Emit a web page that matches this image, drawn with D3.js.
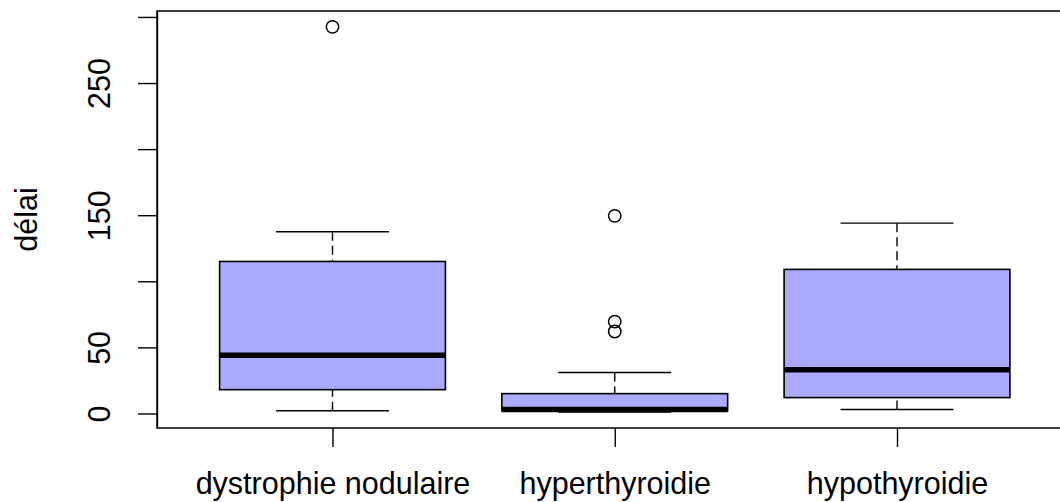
<!DOCTYPE html>
<html>
<head>
<meta charset="utf-8">
<script src="https://cdn.jsdelivr.net/npm/d3@7/dist/d3.min.js"></script>
<style>
  html, body { margin: 0; padding: 0; background: #fff; }
  svg { display: block; }
  text { font-family: "Liberation Sans", Arial, sans-serif; fill: #000; }
</style>
</head>
<body>
<svg id="chart" width="1060" height="502"></svg>
<script>
// ---- data ----
const categories = ["dystrophie nodulaire", "hyperthyroidie", "hypothyroidie"];
const lowerWhisker = [2, 1, 3];
const q1 = [18, 2, 12];
const median = [44, 3, 33];
const q3 = [115, 15, 109];
const upperWhisker = [137.5, 31, 144];
const outliers = [[292.5], [149.5, 69.5, 62], []];
const yTickValues = [0, 50, 100, 150, 200, 250, 300];
const yTickLabels = ["0", "50", "", "150", "", "250", ""];
const yLabel = "délai";

// ---- layout ----
const W = 1060, H = 502;
const plot = { left: 157, top: 11, bottom: 428, right: 1072 };
const fontSize = 30.5;

const svg = d3.select("#chart");

const x = d3.scaleLinear().domain([0.38, 3.62]).range([plot.left + 0.5, plot.right]);
const y = d3.scaleLinear().domain([-11, 304.5]).range([plot.bottom, plot.top]);

const boxW = x(1.4) - x(1.0);   // half of 0.8 units
const capW = x(1.2) - x(1.0);   // half of 0.4 units
const fill = "#AAAAFF";

const groups = categories.map((c, i) => ({
  cat: c, i: i + 1,
  lo: lowerWhisker[i], q1: q1[i], med: median[i], q3: q3[i], hi: upperWhisker[i],
  out: outliers[i]
}));

const g = svg.append("g");

groups.forEach(d => {
  const cx = x(d.i);
  // whiskers (dashed), from whisker end to box
  g.append("line").attr("x1", cx).attr("x2", cx).attr("y1", y(d.hi)).attr("y2", y(d.q3))
    .attr("stroke", "#000").attr("stroke-width", 1.4).attr("stroke-dasharray", "9,5");
  g.append("line").attr("x1", cx).attr("x2", cx).attr("y1", y(d.lo)).attr("y2", y(d.q1))
    .attr("stroke", "#000").attr("stroke-width", 1.4).attr("stroke-dasharray", "9,5");
  // caps
  [d.hi, d.lo].forEach(v => {
    g.append("line").attr("x1", cx - capW).attr("x2", cx + capW).attr("y1", y(v)).attr("y2", y(v))
      .attr("stroke", "#000").attr("stroke-width", 1.4);
  });
  // box
  g.append("rect").attr("x", cx - boxW).attr("width", 2 * boxW)
    .attr("y", y(d.q3)).attr("height", y(d.q1) - y(d.q3))
    .attr("fill", fill).attr("stroke", "#000").attr("stroke-width", 1.6);
  // median
  g.append("line").attr("x1", cx - boxW).attr("x2", cx + boxW).attr("y1", y(d.med)).attr("y2", y(d.med))
    .attr("stroke", "#000").attr("stroke-width", 5.5);
  // outliers
  d.out.forEach(v => {
    g.append("circle").attr("cx", cx).attr("cy", y(v)).attr("r", 6.2)
      .attr("fill", "none").attr("stroke", "#000").attr("stroke-width", 1.5);
  });
});

// frame
svg.append("rect").attr("x", plot.left).attr("y", plot.top)
  .attr("width", plot.right - plot.left).attr("height", plot.bottom - plot.top)
  .attr("fill", "none").attr("stroke", "#000").attr("stroke-width", 1.5);

// y axis
const yAxis = d3.axisLeft(y).tickValues(yTickValues)
  .tickFormat((v, i) => yTickLabels[i]).tickSize(19).tickSizeOuter(0);
const ya = svg.append("g").attr("transform", `translate(${plot.left},0)`).call(yAxis);
ya.select(".domain").attr("stroke", "#000").attr("stroke-width", 1.4);
ya.selectAll(".tick line").attr("stroke", "#000").attr("stroke-width", 1.4);
ya.selectAll(".tick text")
  .attr("x", 0).attr("y", 0).attr("dy", 0)
  .attr("transform", "translate(-47,0) rotate(-90)")
  .attr("text-anchor", "middle")
  .style("font-size", fontSize + "px").style("font-family", "Liberation Sans, Arial, sans-serif")
  .attr("fill", "#000");

// x axis
const xAxis = d3.axisBottom(x).tickValues(groups.map(d => d.i))
  .tickFormat((v, i) => categories[i]).tickSize(19).tickSizeOuter(0);
const xa = svg.append("g").attr("transform", `translate(0,${plot.bottom})`).call(xAxis);
xa.select(".domain").remove();
xa.selectAll(".tick line").attr("stroke", "#000").attr("stroke-width", 1.4);
xa.selectAll(".tick text")
  .attr("y", 66).attr("dy", 0)
  .style("font-size", fontSize + "px").style("font-family", "Liberation Sans, Arial, sans-serif")
  .attr("fill", "#000");

// y label
svg.append("text")
  .attr("transform", `translate(36.5,${(plot.top + plot.bottom) / 2}) rotate(-90)`)
  .attr("text-anchor", "middle")
  .style("font-size", fontSize + "px")
  .text(yLabel);
</script>
</body>
</html>
